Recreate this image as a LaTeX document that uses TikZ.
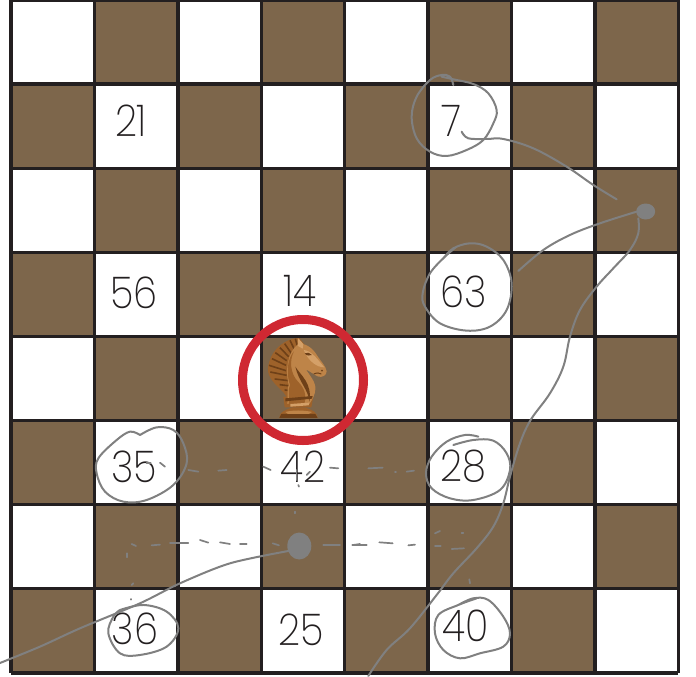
\documentclass[tikz,border=0pt]{standalone}
\usepackage{fontspec}
\setmainfont[UprightFont=*-ExtraLight,FakeStretch=0.88]{Poppins}
\usetikzlibrary{shapes.geometric}
\definecolor{boardbrown}{RGB}{125,102,75}
\definecolor{gridink}{RGB}{35,31,32}
\definecolor{ringred}{RGB}{207,40,50}
\definecolor{pen}{RGB}{128,128,128}
\definecolor{kdark}{RGB}{110,64,24}
\definecolor{kmid}{RGB}{158,98,42}
\definecolor{klight}{RGB}{190,132,72}
\definecolor{kpale}{RGB}{212,160,104}
\tikzset{
  num/.style={font=\fontsize{44}{44}\selectfont, text=gridink, inner sep=0pt},
  scribble/.style={draw=pen, line width=2bp, line cap=round, line join=round},
  speck/.style={draw=pen, line width=1.7bp, line cap=round},
  crop/.style 2 args={shift={(#1,#2)}, x=0.3333bp, y=-0.3333bp},
  blot/.style={ellipse, fill=pen, draw=none, inner sep=0pt},
}
\begin{document}
\begin{tikzpicture}[x=1bp,y=-1bp]
\useasboundingbox (0,0) rectangle (696,677);
% board
\def\bx{11}\def\by{0}\def\cw{83.4}\def\ch{84.1}
\foreach \r in {0,...,7}{
  \foreach \c in {0,...,7}{
    \pgfmathtruncatemacro{\odd}{mod(\r+\c,2)}
    \ifnum\odd=1
      \fill[boardbrown] ({\bx+\c*\cw},{\by+\r*\ch}) rectangle ++(\cw,\ch);
    \fi
  }
}
\foreach \i in {0,...,8}{
  \draw[gridink,line width=3.4bp] ({\bx+\i*\cw},0) -- ({\bx+\i*\cw},{8*\ch});
  \draw[gridink,line width=3.4bp] (\bx,{\by+\i*\ch}) -- ({\bx+8*\cw},{\by+\i*\ch});
}
% numbers
\node[num] (n21) at (131,121) {21};
\node[num] (n7)  at (451,121) {7};
\node[num] (n56) at (134,293) {56};
\node[num] (n14) at (300,291) {14};
\node[num] (n63) at (464,292) {63};
\node[num] (n35) at (134,467) {35};
\node[num] (n42) at (303,467) {42};
\node[num] (n28) at (463,466) {28};
\node[num] (n36) at (135,629) {36};
\node[num] (n25) at (301,630) {25};
\node[num] (n40) at (466,626) {40};
% knight
\begin{scope}[crop={262}{330}]
  % base
  \fill[kmid] (52,264) .. controls (52,245) and (70,240) .. (92,232) -- (128,232) .. controls (150,240) and (166,245) .. (167,264) -- cycle;
  \fill[kdark] (52,264) -- (167,264) -- (160,252) -- (58,252) -- cycle;
  \fill[klight] (70,246) .. controls (90,240) and (125,240) .. (150,246) -- (140,252) -- (78,252) -- cycle;
  \fill[kmid] (68,232) -- (148,232) -- (154,200) -- (64,200) -- cycle;
  % mane
  \fill[kmid] (112,24) .. controls (70,24) and (32,58) .. (22,95) .. controls (12,125) and (20,142) .. (45,168) .. controls (62,185) and (72,192) .. (76,208) -- (125,200) -- (140,60) -- cycle;
  \foreach \a/\b/\u/\v in {100/26/108/55,84/31/98/60,68/41/88/70,54/53/80/80,40/68/74/92,30/86/72/106,21/106/72/122,25/126/74/136,38/147/80/152,53/164/86/168,68/180/90/182}
    \draw[kdark,line width=1.6bp] (\a,\b) -- (\u,\v);
  % neck and head
  \fill[klight] (108,42) .. controls (125,38) and (150,50) .. (165,76) .. controls (176,94) and (192,108) .. (194,124) .. controls (194,136) and (180,143) .. (170,140) .. controls (160,137) and (150,128) .. (132,118) .. controls (142,136) and (162,155) .. (160,178) .. controls (159,195) and (152,207) .. (142,222) -- (76,222) .. controls (80,205) and (72,190) .. (80,165) .. controls (70,125) and (74,70) .. (108,42) -- cycle;
  \fill[kmid] (96,64) .. controls (82,90) and (84,130) .. (108,155) .. controls (128,175) and (134,195) .. (127,222) -- (80,222) .. controls (84,200) and (76,180) .. (84,165) .. controls (72,130) and (76,85) .. (96,64) -- cycle;
  \fill[kdark] (100,110) .. controls (115,135) and (152,160) .. (142,215) .. controls (140,180) and (110,155) .. (100,110) -- cycle;
  % ear
  \fill[kpale] (108,24) -- (124,42) -- (122,56) -- (108,48) -- cycle;
  % face highlights
  \fill[kpale] (125,60) .. controls (150,62) and (168,90) .. (187,112) .. controls (165,112) and (140,95) .. (125,60) -- cycle;
  \fill[kdark] (128,70) .. controls (135,66) and (145,68) .. (150,75) .. controls (143,78) and (134,78) .. (128,70) -- cycle;
  \fill[kdark] (180,122) circle[radius=3];
  \draw[kdark,line width=1bp] (155,132) .. controls (165,128) and (172,128) .. (178,132);
  % collar bands
  \fill[kdark] (70,205) -- (152,198) -- (150,206) -- (70,214) -- cycle;
  \fill[kpale] (85,222) -- (142,218) -- (140,226) -- (85,230) -- cycle;
\end{scope}
% red ring
\node[circle, draw=ringred, line width=9bp, minimum size=121bp, inner sep=0pt] (ring) at (303,380) {};
% blots
\node[blot, minimum width=19bp, minimum height=16bp] (dotA) at (645.7,211.5) {};
\node[blot, minimum width=24bp, minimum height=27bp] (dotB) at (299.3,546) {};
% pen: top right
\begin{scope}[crop={400}{60}]
  \draw[scribble] plot[smooth,tension=.6] coordinates {(160,75)(150,50)(125,45)(90,60)(50,110)(35,170)(50,235)(90,275)(140,288)(200,270)(250,240)(280,190)(290,150)(265,100)(220,72)(160,58)(125,50)};
  \draw[scribble] plot[smooth,tension=.6] coordinates {(185,215)(205,235)(260,237)(310,237)(400,265)(500,320)(580,375)(650,418)};
  \draw[scribble] plot[smooth,tension=.6] coordinates {(355,633)(430,570)(510,525)(600,490)(710,455)};
  \draw[scribble] plot[smooth,tension=.6] coordinates {(130,595)(160,565)(210,550)(260,560)(310,600)(335,670)(320,750)(270,800)(200,812)(120,790)(75,740)(68,700)(90,640)(135,590)(170,560)};
  % long curve from the upper blot down past the 40 circle
  \draw[scribble] plot[smooth,tension=.6] coordinates {(715,475)(715,520)(690,570)(640,625)(590,680)(540,750)(510,830)(490,920)(450,1000)(392,1080)(360,1150)(330,1250)(310,1330)(280,1400)(230,1465)(160,1540)(110,1605)(30,1705)(-40,1770)(-95,1848)};
\end{scope}
% pen: bottom right
\begin{scope}[crop={340}{420}]
  \draw[scribble] plot[smooth,tension=.6] coordinates {(340,75)(400,60)(460,62)(500,100)(510,150)(480,210)(400,240)(330,235)(275,205)(258,160)(275,110)(320,65)(375,45)(415,50)};
  \draw[scribble] plot[smooth,tension=.6] coordinates {(355,555)(400,535)(445,540)(490,590)(510,640)(490,680)(420,700)(360,715)(310,690)(285,640)(295,585)(355,555)(410,535)};
  \foreach \a/\b/\u/\v in {85/145/128/143,165/155/168/155,200/155/222/152,37/374/80/374,118/367/158/370,205/376/225/374,285/340/300/333,365/340/370/340,285/378/302/378,335/387/372/385,388/478/390/490}
    \draw[speck] (\a,\b) -- (\u,\v);
\end{scope}
% pen: bottom left
\begin{scope}[crop={80}{420}]
  \draw[scribble] plot[smooth,tension=.6] coordinates {(180,45)(150,35)(110,60)(55,115)(50,160)(75,215)(130,245)(200,240)(280,195)(320,130)(310,70)(280,30)(230,22)(180,45)};
  \draw[scribble] plot[smooth,tension=.6] coordinates {(120,570)(190,555)(260,575)(295,625)(260,680)(180,705)(120,700)(85,640)(100,590)(120,570)};
  \draw[scribble] plot[smooth,tension=.5] coordinates {(625,393)(450,430)(300,490)(180,550)(0,625)(-120,680)(-240,729)};
  \foreach \a/\b/\u/\v in {325/150/355/155,415/152/440/150,550/140/572/150,750/143/775/145,240/128/255/140,200/130/212/130,680/165/690/155,655/195/657/200,645/275/645/280,155/372/168/378,215/376/240/374,270/369/325/369,360/360/385/368,420/367/450/372,480/372/500/372,578/370/597/376,730/375/780/375,820/375/840/372,140/400/140/412,155/495/160/490,152/537/152/539,650/150/650/180}
    \draw[speck] (\a,\b) -- (\u,\v);
\end{scope}
\end{tikzpicture}
\end{document}
